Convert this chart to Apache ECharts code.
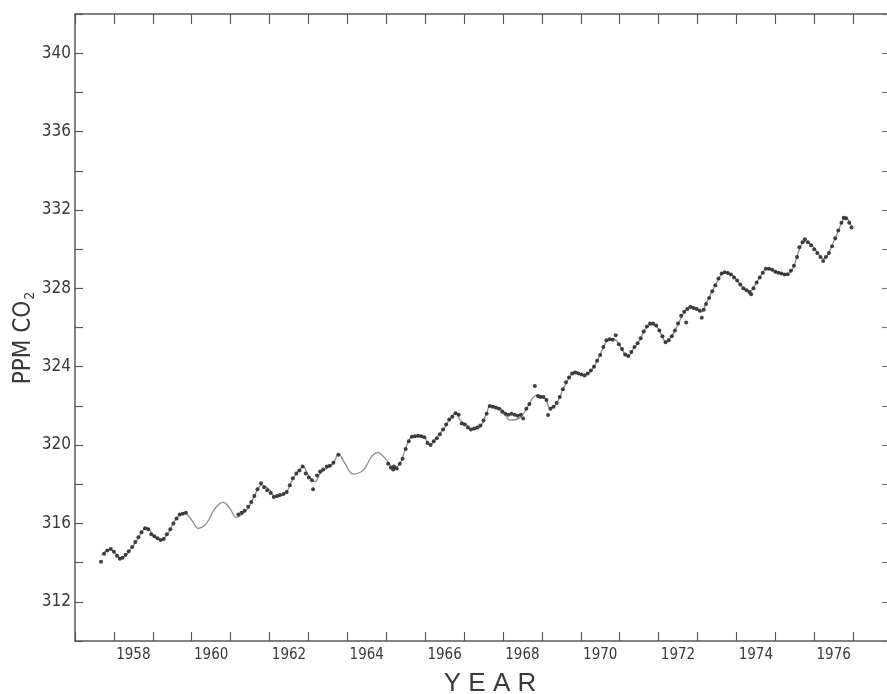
<!DOCTYPE html>
<html>
<head>
<meta charset="utf-8">
<script src="https://cdn.jsdelivr.net/npm/echarts@6/dist/echarts.min.js"></script>
<style>
  html, body { margin: 0; padding: 0; background: #fff; }
  #chart { width: 887px; height: 694px; }
</style>
</head>
<body>
<div id="chart"></div>
<script>
// year categories for the bottom axis (labels sit between the year ticks)
var yearCats = ['1957','1958','1959','1960','1961','1962','1963','1964','1965','1966','1967',
  '1968','1969','1970','1971','1972','1973','1974','1975','1976','1977'];

// fitted seasonal curve
var curveYear = [1957.68,1957.80,1957.92,1958.05,1958.18,1958.30,1958.41,1958.55,1958.67,1958.84,
  1959.01,1959.12,1959.23,1959.34,1959.44,1959.61,1959.81,1960.00,1960.17,1960.38,
  1960.60,1960.81,1960.98,1961.15,1961.41,1961.58,1961.71,1961.80,1962.01,1962.14,
  1962.31,1962.44,1962.61,1962.87,1962.99,1963.17,1963.30,1963.47,1963.64,1963.77,
  1963.94,1964.15,1964.41,1964.62,1964.78,1964.97,1965.10,1965.18,1965.35,1965.48,
  1965.61,1965.69,1965.95,1966.04,1966.12,1966.30,1966.51,1966.64,1966.81,1966.89,
  1967.07,1967.20,1967.41,1967.58,1967.67,1967.84,1968.01,1968.18,1968.44,1968.61,
  1968.87,1969.04,1969.12,1969.21,1969.38,1969.55,1969.72,1969.85,1970.06,1970.24,
  1970.41,1970.55,1970.70,1970.85,1971.01,1971.14,1971.22,1971.35,1971.52,1971.65,
  1971.82,1971.95,1972.08,1972.18,1972.34,1972.51,1972.65,1972.81,1972.98,1973.11,
  1973.20,1973.37,1973.54,1973.67,1973.89,1974.01,1974.18,1974.35,1974.48,1974.61,
  1974.78,1974.95,1975.12,1975.29,1975.46,1975.63,1975.76,1975.93,1976.15,1976.25,
  1976.36,1976.58,1976.75,1976.83,1976.96];
var curvePpm = [314.38,314.60,314.67,314.45,314.22,314.35,314.64,315.00,315.40,315.80,
  315.40,315.22,315.15,315.35,315.66,316.26,316.54,316.17,315.75,316.00,
  316.77,317.07,316.77,316.31,316.68,317.28,317.79,317.96,317.70,317.36,
  317.45,317.61,318.30,318.89,318.47,318.13,318.55,318.81,319.06,319.54,
  319.06,318.52,318.72,319.40,319.61,319.32,318.98,318.80,319.06,319.74,
  320.34,320.42,320.46,320.22,320.00,320.39,320.93,321.36,321.65,321.30,
  321.02,320.80,320.93,321.62,322.00,321.95,321.75,321.27,321.40,321.87,
  322.55,322.46,322.25,321.90,322.13,322.89,323.49,323.75,323.60,323.74,
  324.25,324.85,325.35,325.40,325.05,324.62,324.55,324.90,325.36,325.90,
  326.15,326.05,325.60,325.28,325.55,326.21,326.75,327.05,326.95,326.80,
  327.15,327.82,328.45,328.80,328.68,328.42,328.00,327.85,328.17,328.59,
  329.00,328.93,328.76,328.70,329.05,330.05,330.40,330.21,329.65,329.50,
  329.75,330.75,331.50,331.55,331.15];

// observed values (dots)
var obsYear = [1957.67,1957.75,1957.83,1957.92,1958.00,1958.08,1958.15,1958.22,1958.30,1958.38,
  1958.47,1958.55,1958.63,1958.71,1958.80,1958.88,1958.96,1959.04,1959.12,1959.20,
  1959.28,1959.36,1959.45,1959.53,1959.61,1959.69,1959.77,1959.85,
  1961.20,1961.28,1961.36,1961.45,1961.53,1961.61,1961.69,1961.78,1961.86,1961.94,
  1962.03,1962.11,1962.19,1962.27,1962.36,1962.44,1962.52,1962.60,1962.69,1962.77,
  1962.85,1962.93,1963.01,1963.09,1963.12,1963.22,1963.30,1963.38,1963.47,1963.55,
  1963.64,1963.77,
  1965.05,1965.12,1965.18,1965.20,1965.27,1965.35,1965.42,1965.50,1965.58,1965.66,
  1965.74,1965.82,1965.90,1965.98,1966.06,1966.14,1966.22,1966.30,1966.38,1966.46,
  1966.54,1966.62,1966.70,1966.78,1966.86,1966.94,1967.02,1967.10,1967.18,1967.26,
  1967.34,1967.42,1967.50,1967.58,1967.66,1967.74,1967.82,1967.90,1967.98,1968.06,
  1968.14,1968.22,1968.30,1968.38,1968.46,1968.52,1968.60,1968.68,1968.82,1968.90,
  1968.96,1969.04,1969.12,1969.16,1969.22,1969.30,1969.38,1969.46,1969.54,1969.62,
  1969.70,1969.78,1969.86,1969.94,1970.02,1970.10,1970.18,1970.26,1970.34,1970.42,
  1970.50,1970.58,1970.66,1970.74,1970.82,1970.90,1970.98,1971.06,1971.14,1971.22,
  1971.30,1971.38,1971.46,1971.54,1971.62,1971.70,1971.78,1971.86,1971.94,1972.02,
  1972.10,1972.18,1972.26,1972.34,1972.42,1972.50,1972.58,1972.66,1972.71,1972.74,
  1972.82,1972.90,1972.98,1973.06,1973.11,1973.16,1973.22,1973.30,1973.38,1973.46,
  1973.54,1973.62,1973.70,1973.78,1973.86,1973.94,1974.02,1974.10,1974.18,1974.26,
  1974.34,1974.38,1974.44,1974.52,1974.60,1974.68,1974.76,1974.84,1974.92,1975.00,
  1975.08,1975.16,1975.24,1975.32,1975.40,1975.48,1975.56,1975.62,1975.70,1975.76,
  1975.84,1975.92,1976.00,1976.08,1976.16,1976.23,1976.30,1976.38,1976.46,1976.54,
  1976.62,1976.70,1976.76,1976.82,1976.90,1976.96];
var obsPpm = [314.04,314.45,314.62,314.70,314.55,314.35,314.20,314.25,314.40,314.58,
  314.80,315.05,315.30,315.55,315.75,315.70,315.45,315.35,315.25,315.15,
  315.20,315.45,315.70,316.00,316.25,316.45,316.50,316.55,
  316.45,316.55,316.65,316.85,317.10,317.40,317.75,318.05,317.85,317.70,
  317.55,317.35,317.40,317.45,317.50,317.60,317.95,318.30,318.55,318.70,
  318.90,318.55,318.35,318.20,317.74,318.45,318.65,318.75,318.90,318.95,
  319.10,319.50,
  319.05,318.85,318.75,318.90,318.80,319.05,319.30,319.80,320.20,320.42,
  320.45,320.48,320.45,320.40,320.10,320.00,320.20,320.35,320.55,320.80,
  321.05,321.30,321.45,321.62,321.55,321.10,321.05,320.90,320.80,320.85,
  320.90,321.00,321.25,321.60,322.00,321.95,321.90,321.85,321.70,321.60,
  321.55,321.60,321.55,321.50,321.55,321.35,321.85,322.10,323.01,322.50,
  322.45,322.45,322.30,321.53,321.85,321.95,322.15,322.45,322.85,323.20,
  323.45,323.65,323.70,323.65,323.60,323.55,323.65,323.80,324.00,324.30,
  324.60,325.00,325.35,325.40,325.38,325.60,325.15,324.90,324.62,324.55,
  324.75,325.00,325.20,325.45,325.80,326.05,326.20,326.20,326.10,325.85,
  325.55,325.25,325.35,325.55,325.85,326.20,326.60,326.80,326.25,326.95,
  327.05,327.00,326.95,326.85,326.50,326.90,327.20,327.50,327.85,328.15,
  328.50,328.75,328.82,328.78,328.70,328.55,328.40,328.20,328.00,327.90,
  327.80,327.70,328.00,328.30,328.55,328.80,329.00,329.00,328.95,328.85,
  328.80,328.75,328.70,328.72,328.90,329.15,329.60,330.10,330.35,330.50,
  330.35,330.20,330.00,329.80,329.60,329.40,329.60,329.80,330.15,330.55,
  330.95,331.35,331.60,331.58,331.35,331.10];

var curveData = curveYear.map(function (y, i) { return [y, curvePpm[i]]; });
var obsData = obsYear.map(function (y, i) { return [y, obsPpm[i]]; });

var axisColor = '#5a5a5a';
var textColor = '#3a3a3a';
var narrow = '"Liberation Sans Narrow", "DejaVu Sans Condensed", "Liberation Sans", sans-serif';

var myChart = echarts.init(document.getElementById('chart'));

var option = {
  backgroundColor: '#fff',
  animation: false,
  // plot runs past the right edge of the picture (right border is cropped off)
  grid: { left: 75, width: 817, top: 14, bottom: 53, outerBoundsMode: 'none' },
  xAxis: [
    {
      // bottom: year ticks at boundaries, labels centred in the year
      type: 'category',
      data: yearCats,
      position: 'bottom',
      boundaryGap: true,
      axisLine: { show: true, lineStyle: { color: axisColor, width: 1.5 } },
      axisTick: { show: true, inside: true, length: 9, interval: 0, lineStyle: { color: axisColor, width: 1.2 } },
      axisLabel: {
        interval: 0,
        margin: 7,
        color: textColor,
        fontFamily: narrow,
        fontSize: 15,
        formatter: function (v) { return (+v % 2 === 0) ? v : ''; }
      },
      splitLine: { show: false }
    },
    {
      // top: value axis carrying the data
      type: 'value',
      position: 'top',
      min: 1957,
      max: 1978,
      interval: 1,
      axisLine: { show: true, lineStyle: { color: axisColor, width: 1.5 } },
      axisTick: { show: true, inside: true, length: 10, lineStyle: { color: axisColor, width: 1.2 } },
      axisLabel: { show: false },
      splitLine: { show: false }
    }
  ],
  yAxis: [
    {
      type: 'value',
      position: 'left',
      min: 310,
      max: 342,
      interval: 2,
      axisLine: { show: true, lineStyle: { color: axisColor, width: 1.5 } },
      axisTick: { show: true, inside: true, length: 8, lineStyle: { color: axisColor, width: 1.2 } },
      axisLabel: {
        margin: 4,
        color: textColor,
        fontFamily: narrow,
        fontSize: 17,
        formatter: function (v) { return (v % 4 === 0 && v >= 312 && v <= 340) ? v : ''; }
      },
      splitLine: { show: false }
    },
    {
      type: 'value',
      position: 'right',
      min: 310,
      max: 342,
      interval: 2,
      axisLine: { show: true, lineStyle: { color: axisColor, width: 1.5 } },
      axisTick: { show: true, inside: true, length: 10, lineStyle: { color: '#777', width: 1.2 } },
      axisLabel: { show: false },
      splitLine: { show: false }
    }
  ],
  graphic: [
    {
      type: 'text',
      x: 24, y: 338,
      rotation: Math.PI / 2,
      style: {
        text: 'PPM CO{sub|2}',
        fontFamily: narrow,
        fontSize: 24,
        fill: textColor,
        align: 'center',
        verticalAlign: 'middle',
        rich: {
          sub: { fontFamily: narrow, fontSize: 14, fill: textColor, padding: [12, 0, 0, 1] }
        }
      }
    },
    {
      type: 'text',
      x: 490, y: 684,
      style: {
        text: 'Y E A R',
        fontFamily: '"Liberation Sans", sans-serif',
        fontSize: 26,
        fill: textColor,
        align: 'center',
        verticalAlign: 'middle'
      }
    }
  ],
  series: [
    {
      type: 'line',
      name: 'fit',
      xAxisIndex: 1,
      yAxisIndex: 0,
      data: curveData,
      smooth: 0.4,
      showSymbol: false,
      lineStyle: { color: '#8c8c8c', width: 1.3 },
      z: 2
    },
    {
      type: 'scatter',
      name: 'obs',
      xAxisIndex: 1,
      yAxisIndex: 0,
      data: obsData,
      symbolSize: 4,
      itemStyle: { color: '#2e2e2e', opacity: 0.9 },
      z: 3
    }
  ]
};

myChart.setOption(option);
</script>
</body>
</html>
